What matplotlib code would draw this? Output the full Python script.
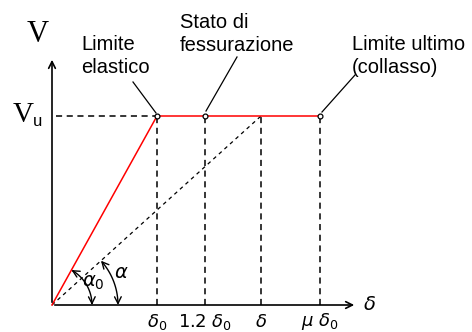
import numpy as np
import matplotlib.pyplot as plt
from matplotlib.patches import FancyArrowPatch
from matplotlib.path import Path

# chart values (diagram units: one unit ~ one pixel)
x_ticks = [105, 153, 209, 268]          # delta0, 1.2 delta0, delta, mu delta0
tick_labels = [r'$\delta_0$', r'$1.2\ \delta_0$', r'$\delta$', r'$\mu\ \delta_0$']
v_u = 189
red_x = [0, 105, 268]
red_y = [0, 189, 189]
marker_x = [105, 153, 268]
notes = ['Limite\nelastico', 'Stato di\nfessurazione', 'Limite ultimo\n(collasso)']
note_xy = [(29, 249), (128, 271), (300, 249)]
note_tip = [(104, 192), (154, 194), (270, 193)]
note_base = [(81, 223), (185, 248), (303, 230)]

fig = plt.figure(figsize=(4.72, 3.32), dpi=100)
ax = fig.add_axes([0, 0, 1, 1])
ax.set_xlim(-52, 420)
ax.set_ylim(-27, 305)
ax.axis('off')

sans = 'Liberation Sans'

# axes with open arrow heads
ax.annotate('', xy=(0, 248), xytext=(0, 0),
            arrowprops=dict(arrowstyle='->', lw=1.2, color='black', mutation_scale=12))
ax.annotate('', xy=(305, 0), xytext=(0, 0),
            arrowprops=dict(arrowstyle='->', lw=1.2, color='black', mutation_scale=12))

# dashed guides
ax.plot([4, x_ticks[0]], [v_u, v_u], color='black', lw=1.1, ls=(0, (4, 3)))
for xv in x_ticks:
    ax.plot([xv, xv], [0, v_u], color='black', lw=1.1, ls=(0, (4, 3)))
ax.plot([0, x_ticks[2]], [0, v_u], color='black', lw=0.9, ls=(0, (3, 3)))

# curve
ax.plot(red_x, red_y, color='#ff0000', lw=1.1)
ax.plot(marker_x, [v_u] * 3, 'o', ms=3.5, mfc='white', mec='black', mew=0.9)

# angle arcs
for r, ang in [(40, np.arctan2(v_u, x_ticks[0])),
               (66, np.arctan2(v_u, x_ticks[2]))]:
    t = np.linspace(ang, 0, 30)
    pts = np.column_stack([r * np.cos(t), r * np.sin(t)])
    arr = FancyArrowPatch(path=Path(pts), arrowstyle='<->', mutation_scale=12,
                          lw=1.0, color='black')
    ax.add_patch(arr)
ax.text(41, 22, r'$\alpha_0$', fontsize=14, ha='center', va='center')
ax.text(69, 33, r'$\alpha$', fontsize=14, ha='center', va='center')

# labels
ax.text(-14, 270, 'V', fontsize=22, family='Liberation Serif', ha='center', va='center')
ax.text(-29, v_u + 1, 'V', fontsize=21, family='Liberation Serif', ha='center', va='center')
ax.text(-14, v_u - 5, 'u', fontsize=12, family=sans, ha='center', va='center')
for xv, lab in zip(x_ticks, tick_labels):
    ax.text(xv, -17, lab, fontsize=13, ha='center', va='center')
ax.text(318, 0, r'$\delta$', fontsize=14, ha='center', va='center')

for txt, xy, tip, base in zip(notes, note_xy, note_tip, note_base):
    ax.text(xy[0], xy[1], txt, fontsize=14.5, family=sans, ha='left', va='center',
            linespacing=1.3)
    ax.plot([base[0], tip[0]], [base[1], tip[1]], color='black', lw=0.9)

fig.savefig('out.png', dpi=100)
